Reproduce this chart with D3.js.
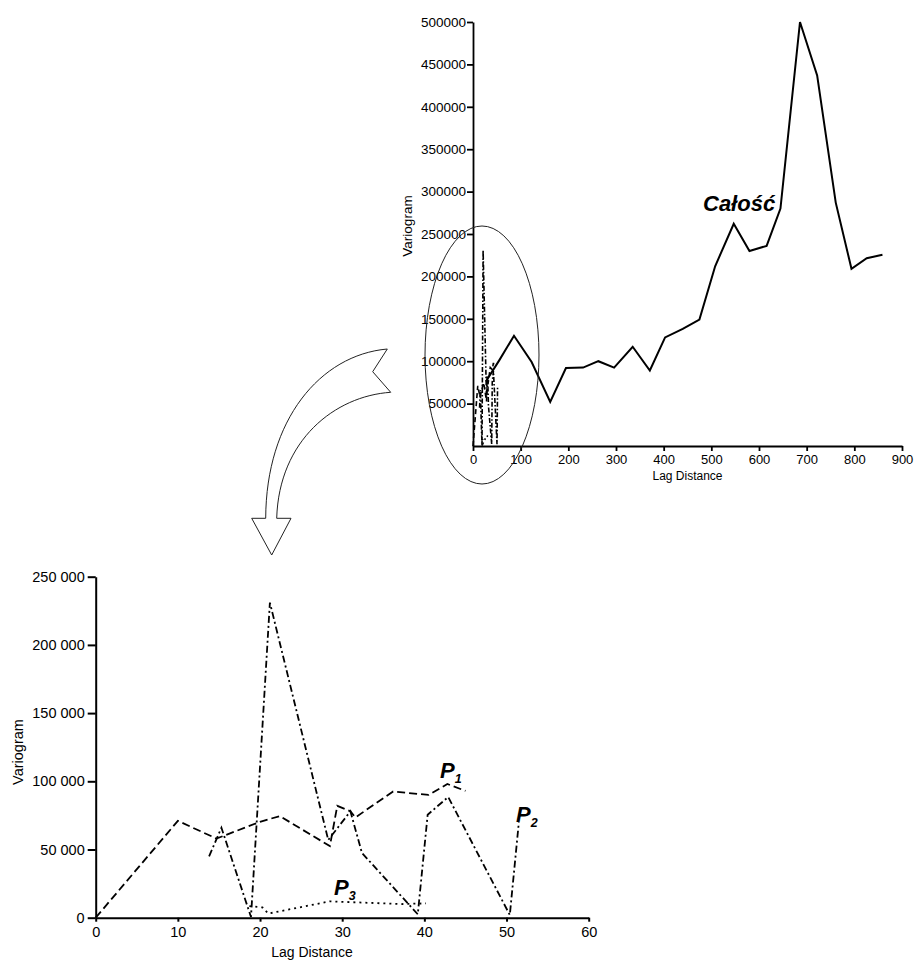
<!DOCTYPE html>
<html>
<head>
<meta charset="utf-8">
<script src="https://cdn.jsdelivr.net/npm/d3@7"></script>
<style>
    body { margin: 0; background: #fff; }
    svg { display: block; font-family: Arial, "Liberation Sans", sans-serif; }
</style>
</head>
<body>
<div id="chart"></div>
<script>
// Całość - variogram for the whole area: [lag, variogram]
const calosc = [
    [27, 76000], [55, 101000], [86, 130000], [123, 99000], [162, 52000],
    [195, 92000], [231, 92500], [263, 100000], [296, 92500], [335, 117000],
    [371, 89000], [403, 128000], [440, 138000], [475, 149000], [508, 212000],
    [547, 262000], [580, 230000], [616, 236000], [645, 280000], [686, 500000],
    [722, 437000], [761, 287000], [794, 209000], [826, 221500], [859, 225500]
];

// P1 (dashed)
const p1 = [
    [0, 0], [10, 71000], [14.7, 58000], [20.1, 70500], [22.4, 74500],
    [28.5, 52500], [29.4, 82000], [31, 78000], [31.6, 73500], [36.2, 92500],
    [40.5, 90000], [42.8, 98000], [45, 93000]
];

// P2 (dash-dot)
const p2 = [
    [13.8, 45000], [15.3, 66000], [18.9, 500], [21.2, 231000], [28.3, 57000],
    [31, 78000], [32.4, 47500], [39.2, 2500], [40.4, 75500], [42.9, 88500],
    [50.4, 2000], [51.5, 70000]
];

// P3 (dotted)
const p3 = [
    [18.7, 8500], [20.3, 7500], [21, 3000], [28.5, 12000], [37.1, 10000], [40.2, 10500]
];

const topXTicks = [0, 100, 200, 300, 400, 500, 600, 700, 800, 900];
const topYTicks = [50000, 100000, 150000, 200000, 250000, 300000, 350000, 400000, 450000, 500000];
const botXTicks = [0, 10, 20, 30, 40, 50, 60];
const botYTicks = [0, 50000, 100000, 150000, 200000, 250000];

const width = 921;
const height = 960;

const svg = d3.select('#chart')
    .append('svg')
    .attr('width', width)
    .attr('height', height);

// number format with a space as thousands separator (bottom chart)
const plLocale = d3.formatLocale({ decimal: ',', thousands: '\u00a0', grouping: [3], currency: ['', ''] });
const fmtSpace = plLocale.format(',d');

/**
 * styles an axis group
 */
function styleAxis(g, fontSize, strokeWidth) {
    g.select('.domain').attr('stroke', '#000').attr('stroke-width', strokeWidth);
    g.selectAll('.tick line').attr('stroke', '#000').attr('stroke-width', strokeWidth);
    g.selectAll('.tick text')
        .attr('fill', '#000')
        .attr('font-size', fontSize)
        .attr('font-family', 'Arial, "Liberation Sans", sans-serif');
}

// ---------- top chart (whole range) ----------
const xTop = d3.scaleLinear().domain([0, 900]).range([473, 902]);
const yTop = d3.scaleLinear().domain([0, 500000]).range([446, 22]);

const topG = svg.append('g');

topG.append('g')
    .attr('transform', `translate(0,${yTop(0)})`)
    .call(d3.axisBottom(xTop).tickValues(topXTicks).tickSize(5).tickSizeOuter(0).tickPadding(4))
    .call(g => styleAxis(g, '13px', 1.8));

topG.append('g')
    .attr('transform', `translate(${xTop(0)},0)`)
    .call(d3.axisLeft(yTop).tickValues(topYTicks).tickFormat(d3.format('d')).tickSize(6).tickSizeOuter(0).tickPadding(1))
    .call(g => styleAxis(g, '13.5px', 1.8));

topG.append('text')
    .attr('x', (xTop(0) + xTop(900)) / 2)
    .attr('y', 480)
    .attr('text-anchor', 'middle')
    .attr('font-size', '12px')
    .text('Lag Distance');

topG.append('text')
    .attr('transform', 'translate(412,226) rotate(-90)')
    .attr('text-anchor', 'middle')
    .attr('font-size', '13.5px')
    .text('Variogram');

const lineTop = d3.line().x(d => xTop(d[0])).y(d => yTop(d[1]));

topG.append('path')
    .attr('d', lineTop(calosc))
    .attr('fill', 'none')
    .attr('stroke', '#000')
    .attr('stroke-width', 2);

topG.append('path')
    .attr('d', lineTop(p1))
    .attr('fill', 'none')
    .attr('stroke', '#000')
    .attr('stroke-width', 1.6)
    .attr('stroke-dasharray', '5,3');

topG.append('path')
    .attr('d', lineTop(p2))
    .attr('fill', 'none')
    .attr('stroke', '#000')
    .attr('stroke-width', 1.6)
    .attr('stroke-dasharray', '5,2,1.5,2');

topG.append('path')
    .attr('d', lineTop(p3))
    .attr('fill', 'none')
    .attr('stroke', '#000')
    .attr('stroke-width', 1.6)
    .attr('stroke-dasharray', '1.5,3');

topG.append('text')
    .attr('x', 703)
    .attr('y', 211)
    .attr('font-size', '22px')
    .attr('font-weight', 'bold')
    .attr('font-style', 'italic')
    .text('Całość');

// ellipse around the short lags
topG.append('ellipse')
    .attr('cx', 482)
    .attr('cy', 355)
    .attr('rx', 57)
    .attr('ry', 129)
    .attr('fill', 'none')
    .attr('stroke', '#222')
    .attr('stroke-width', 1);

// curved block arrow pointing down to the zoomed chart
const arrowPath = [
    'M387.3,349',
    'C320,355 266,420 265.7,518.3',
    'L251.7,518.3',
    'L271.7,555',
    'L291,518.3',
    'L276.7,518.3',
    'C279,440 335,396 390.7,392.3',
    'L372.7,371.7',
    'Z'
].join(' ');

svg.append('path')
    .attr('d', arrowPath)
    .attr('fill', '#fff')
    .attr('stroke', '#222')
    .attr('stroke-width', 1);

// ---------- bottom chart (short lags) ----------
const xBot = d3.scaleLinear().domain([0, 60]).range([95.7, 588.7]);
const yBot = d3.scaleLinear().domain([0, 250000]).range([917.7, 576.7]);

const botG = svg.append('g');

botG.append('g')
    .attr('transform', `translate(0,${yBot(0)})`)
    .call(d3.axisBottom(xBot).tickValues(botXTicks).tickSize(4).tickSizeOuter(0).tickPadding(5))
    .call(g => styleAxis(g, '14.5px', 2));

botG.append('g')
    .attr('transform', `translate(${xBot(0)},0)`)
    .call(d3.axisLeft(yBot).tickValues(botYTicks).tickFormat(fmtSpace).tickSize(8).tickSizeOuter(0).tickPadding(3))
    .call(g => styleAxis(g, '14.5px', 2));

botG.append('text')
    .attr('x', 312)
    .attr('y', 957)
    .attr('text-anchor', 'middle')
    .attr('font-size', '14px')
    .text('Lag Distance');

botG.append('text')
    .attr('transform', 'translate(23,752) rotate(-90)')
    .attr('text-anchor', 'middle')
    .attr('font-size', '14.5px')
    .text('Variogram');

const lineBot = d3.line().x(d => xBot(d[0])).y(d => yBot(d[1]));

botG.append('path')
    .attr('d', lineBot(p1))
    .attr('fill', 'none')
    .attr('stroke', '#000')
    .attr('stroke-width', 1.8)
    .attr('stroke-dasharray', '8,4');

botG.append('path')
    .attr('d', lineBot(p2))
    .attr('fill', 'none')
    .attr('stroke', '#000')
    .attr('stroke-width', 1.8)
    .attr('stroke-dasharray', '7,3,2,3');

botG.append('path')
    .attr('d', lineBot(p3))
    .attr('fill', 'none')
    .attr('stroke', '#000')
    .attr('stroke-width', 1.8)
    .attr('stroke-dasharray', '2,4');

// series labels
const seriesLabels = [
    { name: 'P', sub: '1', x: 440, y: 778 },
    { name: 'P', sub: '2', x: 516, y: 822 },
    { name: 'P', sub: '3', x: 334, y: 895 }
];

seriesLabels.forEach(l => {
    const t = botG.append('text')
        .attr('x', l.x)
        .attr('y', l.y)
        .attr('font-weight', 'bold')
        .attr('font-style', 'italic')
        .attr('font-size', '22px');
    t.append('tspan').text(l.name);
    t.append('tspan')
        .attr('font-size', '12.5px')
        .attr('dy', 5)
        .text(l.sub);
});
</script>
</body>
</html>
